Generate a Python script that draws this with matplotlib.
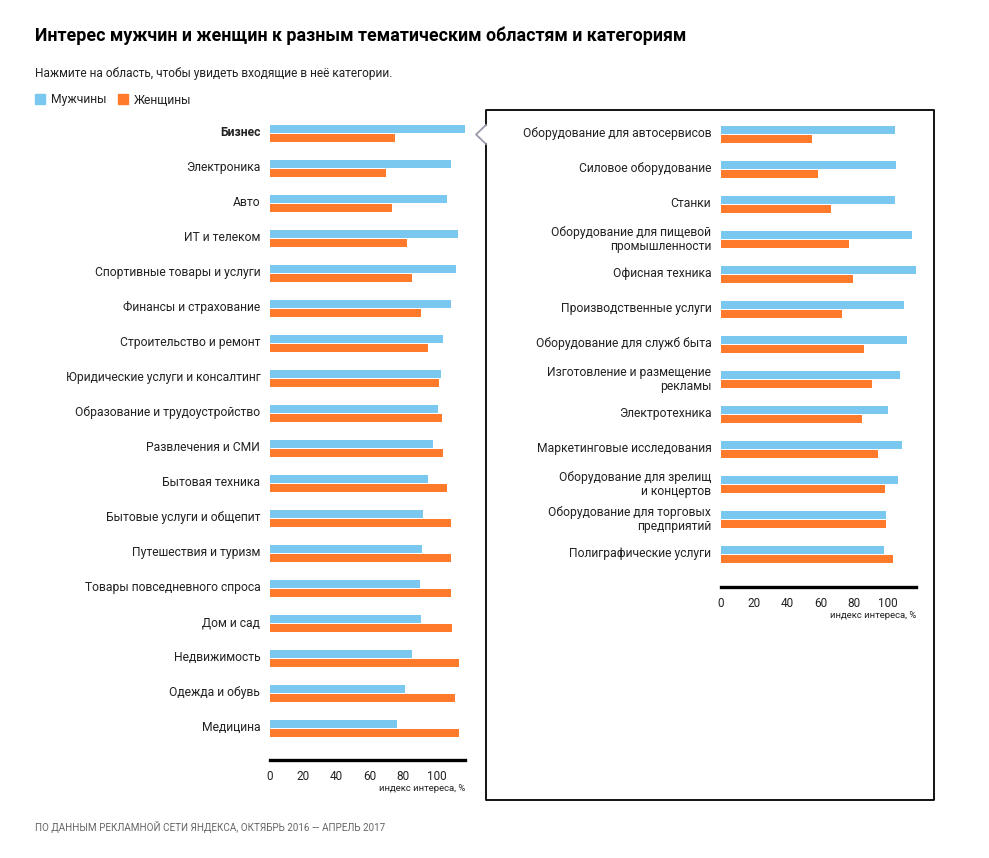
import matplotlib
matplotlib.use("Agg")
from matplotlib import pyplot as plt
from matplotlib.lines import Line2D
import numpy as np

plt.rcParams['font.family'] = ['Roboto', 'DejaVu Sans']

# left panel: areas
areas = ["Бизнес", "Электроника", "Авто", "ИТ и телеком", "Спортивные товары и услуги",
         "Финансы и страхование", "Строительство и ремонт", "Юридические услуги и консалтинг",
         "Образование и трудоустройство", "Развлечения и СМИ", "Бытовая техника",
         "Бытовые услуги и общепит", "Путешествия и туризм", "Товары повседневного спроса",
         "Дом и сад", "Недвижимость", "Одежда и обувь", "Медицина"]
areas_men = [117, 108.6, 106.2, 112.8, 111.6, 108.6, 103.8, 102.6, 100.8, 97.8,
             94.8, 91.8, 91.2, 90, 90.6, 85.2, 81, 76.2]
areas_women = [75, 69.6, 73.2, 82.2, 85.2, 90.6, 94.8, 101.4, 103.2, 103.8,
               106.2, 108.6, 108.6, 108.6, 109.2, 113.4, 111, 113.4]

# right panel: categories inside "Бизнес"
cats = ["Оборудование для автосервисов", "Силовое оборудование", "Станки",
        "Оборудование для пищевой\nпромышленности", "Офисная техника",
        "Производственные услуги", "Оборудование для служб быта",
        "Изготовление и размещение\nрекламы", "Электротехника",
        "Маркетинговые исследования", "Оборудование для зрелищ\nи концертов",
        "Оборудование для торговых\nпредприятий", "Полиграфические услуги"]
cats_men = [104.4, 105, 104.4, 114.6, 117, 109.8, 111.6, 107.4, 100.2, 108.6, 106.2, 99, 97.8]
cats_women = [54.6, 58.2, 66, 76.8, 79.2, 72.6, 85.8, 90.6, 84.6, 94.2, 98.4, 99, 103.2]

xticks = [0, 20, 40, 60, 80, 100]
BLUE = "#7ac8f0"
ORANGE = "#ff7a2a"
W, H = 989, 858


def fx(px):
    return px / W


def fy(py):
    return 1 - py / H


def draw_panel(ax, labels, men, women, bottom_pad):
    n = len(labels)
    y = np.arange(n)
    ax.barh(y - 0.13, men, height=0.23, color=BLUE)
    ax.barh(y + 0.13, women, height=0.23, color=ORANGE)
    ax.set_xlim(0, 117)
    ax.set_ylim(n - 1 + bottom_pad, -0.5)
    for s in ["top", "right", "left"]:
        ax.spines[s].set_visible(False)
    ax.spines["bottom"].set_linewidth(2.4)
    ax.spines["bottom"].set_color("black")
    ax.set_xticks(xticks)
    ax.set_xticklabels([str(t) for t in xticks], fontsize=8.5, color="#222222")
    ax.set_yticks(y - 0.07)
    ax.set_yticklabels(labels, fontsize=8.75, color="#222222", linespacing=1.15)
    ax.tick_params(axis="both", length=0)
    ax.tick_params(axis="y", pad=7)
    ax.tick_params(axis="x", pad=7)
    ax.annotate("индекс интереса, %", xy=(1, 0), xycoords="axes fraction",
                xytext=(0, -17), textcoords="offset points",
                ha="right", va="top", fontsize=6.8, color="#222222")


fig = plt.figure(figsize=(9.89, 8.58), dpi=100)

ax1 = fig.add_axes([fx(270), fy(760), fx(195), (760 - 116) / H])
draw_panel(ax1, areas, areas_men, areas_women, 0.9)
ax1.get_yticklabels()[0].set_fontweight("bold")

ax2 = fig.add_axes([fx(721), fy(587), fx(195), (587 - 117) / H])
draw_panel(ax2, cats, cats_men, cats_women, 0.92)

# titles
fig.text(fx(35), fy(36), "Интерес мужчин и женщин к разным тематическим областям и категориям",
         fontsize=12.8, fontweight="bold", va="center", color="black")
fig.text(fx(35), fy(73), "Нажмите на область, чтобы увидеть входящие в неё категории.",
         fontsize=8.6, va="center", color="#222222")

# legend
fig.patches.append(plt.Rectangle((fx(35), fy(104)), fx(10), 10 / H, color=BLUE,
                                 transform=fig.transFigure, figure=fig))
fig.text(fx(51), fy(100), "Мужчины", fontsize=8.75, va="center", color="#222222")
fig.patches.append(plt.Rectangle((fx(118), fy(104)), fx(10), 10 / H, color=ORANGE,
                                 transform=fig.transFigure, figure=fig))
fig.text(fx(134), fy(100), "Женщины", fontsize=8.75, va="center", color="#222222")

# detail box with notch pointing to selected area
box_x = [486, 486, 934, 934, 486, 486]
box_y = [125, 110, 110, 800, 800, 144]
fig.lines.append(Line2D([fx(v) for v in box_x], [fy(v) for v in box_y],
                        color="black", lw=1.3, transform=fig.transFigure))
fig.lines.append(Line2D([fx(486), fx(476), fx(486)], [fy(125), fy(134.5), fy(144)],
                        color="#9a9aaa", lw=1.3, transform=fig.transFigure))

fig.text(fx(35), fy(827), "ПО ДАННЫМ РЕКЛАМНОЙ СЕТИ ЯНДЕКСА, ОКТЯБРЬ 2016 — АПРЕЛЬ 2017",
         fontsize=7.1, va="center", color="#666666")

fig.savefig("out.png", dpi=100)
